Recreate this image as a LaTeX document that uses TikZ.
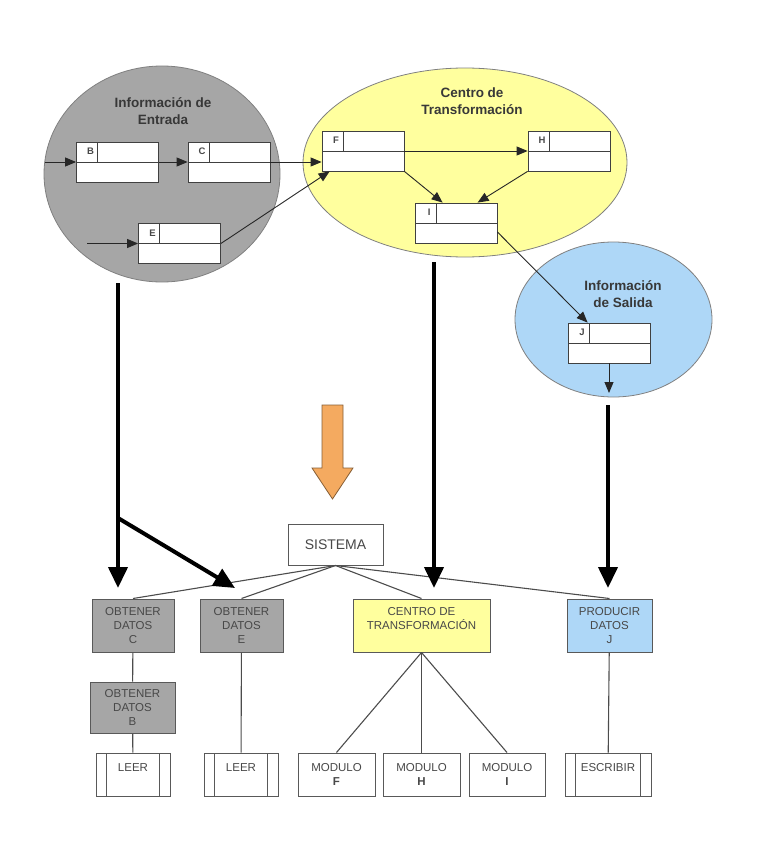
\documentclass[tikz,border=0pt]{standalone}
\usepackage{fontspec}
\setmainfont{Liberation Sans}
\usepackage{tikz}
\usetikzlibrary{arrows.meta}
\definecolor{dfgray}{RGB}{166,166,166}
\definecolor{dfyellow}{RGB}{255,255,158}
\definecolor{dfblue}{RGB}{174,215,247}
\definecolor{dforange}{RGB}{244,170,96}
\definecolor{dftext}{RGB}{72,72,72}

\begin{document}
\begin{tikzpicture}[x=1pt, y=-1pt,
    reg/.style={draw=black!75, fill=white, line width=0.8pt, minimum width=82pt, minimum height=40pt, inner sep=0pt,
        path picture={
            \draw[black!75, line width=0.8pt] (path picture bounding box.west) -- (path picture bounding box.east);
            \draw[black!75, line width=0.8pt] ([xshift=21pt]path picture bounding box.north west) -- ([xshift=21pt]path picture bounding box.west);
        }},
    letra/.style={anchor=center, xshift=14.5pt, yshift=-10pt, inner sep=0pt, text=dftext, font=\fontsize{9.5}{10}\selectfont\bfseries},
    titulo/.style={align=center, text=black!78, font=\fontsize{13.5}{17}\selectfont\bfseries},
    fl/.style={-{Triangle[width=9pt,length=11pt]}, line width=0.9pt, black!85},
    flg/.style={-{Triangle[width=19pt,length=21pt]}, line width=4pt},
    caja/.style={draw=black!65, line width=1pt, inner sep=0pt, align=center, text=dftext, font=\fontsize{11.5}{14}\selectfont},
    modulo/.style={caja, fill=white, minimum height=43pt},
    subrut/.style={modulo, path picture={
            \draw[black!65, line width=1pt] ([xshift=10.5pt]path picture bounding box.south west) -- ([xshift=10.5pt]path picture bounding box.north west);
            \draw[black!65, line width=1pt] ([xshift=-10.5pt]path picture bounding box.south east) -- ([xshift=-10.5pt]path picture bounding box.north east);
        }},
    enlace/.style={line width=1.1pt, black!70}
]
\useasboundingbox (0,0) rectangle (775,851);

% Information areas
\filldraw[fill=dfgray, draw=black!50, line width=0.8pt] (162,174) ellipse [x radius=118pt, y radius=108pt];
\filldraw[fill=dfyellow, draw=black!50, line width=0.8pt] (465,162.5) ellipse [x radius=162pt, y radius=94.5pt];
\filldraw[fill=dfblue, draw=black!50, line width=0.8pt] (613.5,319.5) ellipse [x radius=98.5pt, y radius=77.5pt];

\node[titulo] (tEnt) at (163,111) {Información de\\Entrada};
\node[titulo] (tCen) at (472,101) {Centro de\\Transformación};
\node[titulo] (tSal) at (623,294) {Información\\de Salida};

% Records
\node[reg, label={[letra]north west:B}] (B) at (117.5,162) {};
\node[reg, label={[letra]north west:C}] (C) at (229,162) {};
\node[reg, label={[letra]north west:E}] (E) at (179.5,243.5) {};
\node[reg, label={[letra]north west:F}] (F) at (363,151) {};
\node[reg, label={[letra]north west:H}] (H) at (569,151) {};
\node[reg, label={[letra]north west:I}] (I) at (456,223) {};
\node[reg, label={[letra]north west:J}] (J) at (609,343) {};

\coordinate (inB) at (45,162);
\coordinate (inE) at (87,243.5);
\coordinate (outJ) at (609,393);

\draw[fl] (inB) -- (B.west);
\draw[fl] (B.east) -- (C.west);
\draw[fl] (inE) -- (E.west);
\draw[fl] (C.east) -- (C.east -| F.west);
\draw[fl] (E.east) -- ([xshift=8pt]F.south west);
\draw[fl] (F.east) -- (H.west);
\draw[fl] (F.south east) -- ([xshift=28pt]I.north west);
\draw[fl] (H.south west) -- ([xshift=63pt]I.north west);
\draw[fl] ([yshift=-9pt]I.east) -- ([xshift=20pt]J.north west);
\draw[fl] (J.south) -- (outJ);

% Orange arrow
\filldraw[fill=dforange, draw=black!45!dforange, line width=0.8pt]
    (322,405) -- (343,405) -- (343,468) -- (353,468) -- (332.5,499) -- (312,468) -- (322,468) -- cycle;

% Structure chart
\node[caja, fill=white, minimum width=95pt, minimum height=41pt, font=\fontsize{14}{16}\selectfont] (sis) at (335.5,544.5) {SISTEMA};

\node[caja, fill=dfgray, minimum width=82pt, minimum height=53pt] (obC) at (133,625.5) {OBTENER\\DATOS\\C};
\node[caja, fill=dfgray, minimum width=83pt, minimum height=53pt] (obE) at (241.5,625.5) {OBTENER\\DATOS\\E};
\node[caja, fill=dfyellow, minimum width=137pt, minimum height=53pt] (cen) at (421.5,625.5) {CENTRO DE\\TRANSFORMACIÓN\\ };
\node[caja, fill=dfblue, minimum width=85pt, minimum height=53pt] (prJ) at (609.5,625.5) {PRODUCIR\\DATOS\\J};
\node[caja, fill=dfgray, minimum width=85pt, minimum height=51pt] (obB) at (132.5,707.5) {OBTENER\\DATOS\\B};

\node[subrut, minimum width=74pt] (leer1) at (133,774.5) {LEER\\ };
\node[subrut, minimum width=74pt] (leer2) at (241,774.5) {LEER\\ };
\node[modulo, minimum width=77pt] (modF) at (336.5,774.5) {MODULO\\\textbf{F}};
\node[modulo, minimum width=77pt] (modH) at (421.5,774.5) {MODULO\\\textbf{H}};
\node[modulo, minimum width=76pt] (modI) at (507,774.5) {MODULO\\\textbf{I}};
\node[subrut, minimum width=86pt] (esc) at (608,774.5) {ESCRIBIR\\ };

\foreach \m in {obC,obE,cen,prJ} {
    \draw[enlace] (sis.south) -- (\m.north);
}
\draw[enlace] (obC) -- (obB);
\draw[enlace] (obB) -- (leer1);
\draw[enlace] (obE) -- (leer2);
\foreach \m in {modF,modH,modI} {
    \draw[enlace] (cen.south) -- (\m.north);
}
\draw[enlace] (prJ) -- (esc);

% Thick arrows
\coordinate (sEnt) at (118,283);
\coordinate (ramal) at (118,518);
\coordinate (sCen) at (434,262);
\coordinate (sSal) at (608,405);
\coordinate (pC) at (118,588);
\coordinate (pE) at (235,588);
\coordinate (pCen) at (434,588);
\coordinate (pJ) at (608,588);
\draw[flg] (sEnt) -- (pC);
\draw[flg] (ramal) -- (pE);
\draw[flg] (sCen) -- (pCen);
\draw[flg] (sSal) -- (pJ);
\end{tikzpicture}
\end{document}
